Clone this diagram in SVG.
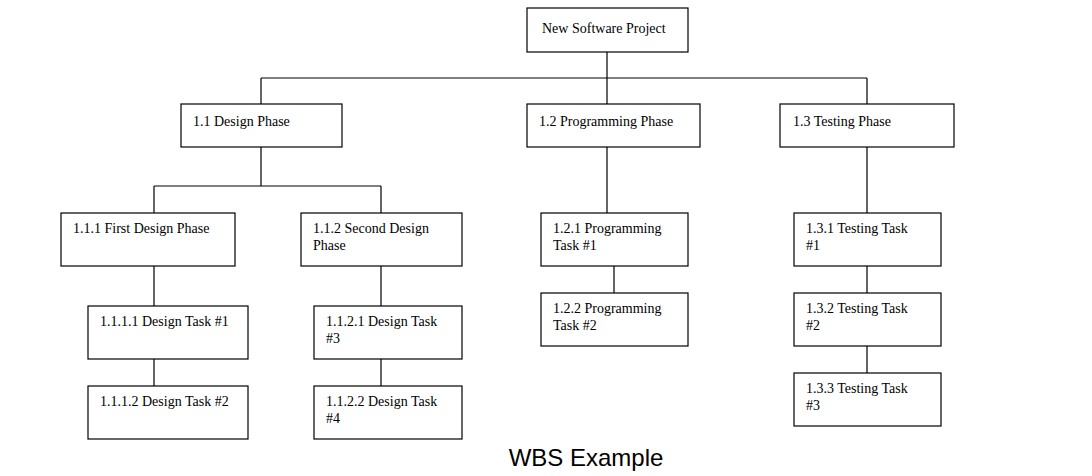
<svg xmlns="http://www.w3.org/2000/svg" width="1092" height="476" viewBox="0 0 1092 476">
<style>
rect{fill:#fff;stroke:#000;stroke-width:1.2}
text{font-family:"Liberation Serif",serif;font-size:14px;fill:#000}
.c{fill:none;stroke:#000;stroke-width:1.2}
.t{font-family:"Liberation Sans",sans-serif;font-size:24px}
</style>
<rect width="1092" height="476" style="fill:#fff;stroke:none"/>
<g id="connectors" class="c">
<path class="c" d="M607 52V78M261 78H867M261 78V104M607 78V104M867 78V104M261 147V186M154 186H381M154 186V213M381 186V213M607 147V213M867 147V213M154 266V306M154 359V386M381 266V306M381 359V386M614 266V293M867 266V293M867 346V373"/>
</g>
<g id="n0"><rect x="527" y="8" width="161" height="44"/><text x="542" y="33">New Software Project</text></g>
<g id="n1"><rect x="181" y="104" width="161" height="43"/><text x="193" y="126">1.1 Design Phase</text></g>
<g id="n2"><rect x="527" y="104" width="173" height="43"/><text x="539" y="126">1.2 Programming Phase</text></g>
<g id="n3"><rect x="780" y="104" width="174" height="43"/><text x="793" y="126">1.3 Testing Phase</text></g>
<g id="n11"><rect x="61" y="213" width="174" height="53"/><text x="73" y="233">1.1.1 First Design Phase</text></g>
<g id="n12"><rect x="301" y="213" width="161" height="53"/><text x="313" y="233">1.1.2 Second Design</text><text x="313" y="250">Phase</text></g>
<g id="n21"><rect x="541" y="213" width="147" height="53"/><text x="553" y="233">1.2.1 Programming</text><text x="553" y="250">Task #1</text></g>
<g id="n31"><rect x="794" y="213" width="147" height="53"/><text x="806" y="233">1.3.1 Testing Task</text><text x="806" y="250">#1</text></g>
<g id="n111"><rect x="88" y="306" width="160" height="53"/><text x="100" y="326">1.1.1.1 Design Task #1</text></g>
<g id="n121"><rect x="314" y="306" width="148" height="53"/><text x="326" y="326">1.1.2.1 Design Task</text><text x="326" y="343">#3</text></g>
<g id="n22"><rect x="541" y="293" width="147" height="53"/><text x="553" y="313">1.2.2 Programming</text><text x="553" y="330">Task #2</text></g>
<g id="n32"><rect x="794" y="293" width="147" height="53"/><text x="806" y="313">1.3.2 Testing Task</text><text x="806" y="330">#2</text></g>
<g id="n112"><rect x="88" y="386" width="160" height="53"/><text x="100" y="406">1.1.1.2 Design Task #2</text></g>
<g id="n122"><rect x="314" y="386" width="148" height="53"/><text x="326" y="406">1.1.2.2 Design Task</text><text x="326" y="423">#4</text></g>
<g id="n33"><rect x="794" y="373" width="147" height="53"/><text x="806" y="393">1.3.3 Testing Task</text><text x="806" y="410">#3</text></g>
<text class="t" x="586" y="466" text-anchor="middle">WBS Example</text>
</svg>
